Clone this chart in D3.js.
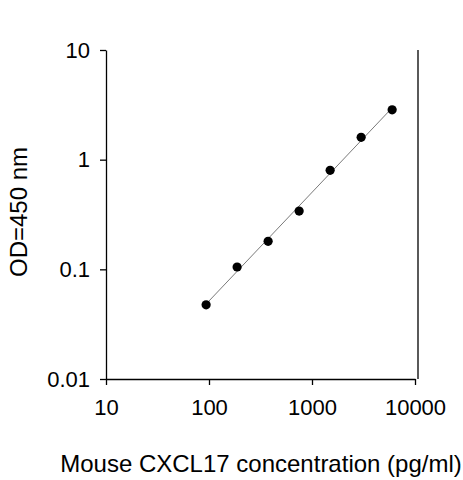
<!DOCTYPE html>
<html>
<head>
<meta charset="utf-8">
<script src="https://cdn.jsdelivr.net/npm/d3@7"></script>
<style>
  body { margin: 0; background: #fff; }
  text { font-family: "Liberation Sans", Arial, sans-serif; fill: #000; }
</style>
</head>
<body>
<svg id="chart" width="463" height="480"></svg>
<script>
// standard curve values
var concentration = [93.75, 187.5, 375, 750, 1500, 3000, 6000];
var od450 = [0.0475, 0.105, 0.18, 0.34, 0.80, 1.60, 2.85];
var xTicks = [10, 100, 1000, 10000];
var yTicks = [0.01, 0.1, 1, 10];

const svg = d3.select('#chart');

const plotLeft = 106, plotRight = 415, plotTop = 50, plotBottom = 379;

const xScale = d3.scaleLog()
  .domain([10, 10000])
  .range([plotLeft, plotRight]);

const yScale = d3.scaleLog()
  .domain([0.01, 10])
  .range([plotBottom, plotTop]);

// axes
const xAxis = svg.append('g')
  .attr('transform', `translate(0, ${plotBottom})`)
  .call(d3.axisBottom(xScale)
    .tickValues(xTicks)
    .tickFormat(d3.format('d'))
    .tickSizeInner(6)
    .tickSizeOuter(0)
    .tickPadding(14));

const yAxis = svg.append('g')
  .attr('transform', `translate(${plotLeft}, 0)`)
  .call(d3.axisLeft(yScale)
    .tickValues(yTicks)
    .tickFormat(d => d >= 1 ? d3.format('d')(d) : String(d))
    .tickSizeInner(6)
    .tickSizeOuter(0)
    .tickPadding(10));

[xAxis, yAxis].forEach(function(a){
  a.select('.domain').attr('stroke', '#000').attr('stroke-width', 1.3);
  a.selectAll('.tick line').attr('stroke', '#000').attr('stroke-width', 1.3);
  a.selectAll('.tick text')
    .attr('font-size', '22px')
    .attr('font-family', '"Liberation Sans", Arial, sans-serif')
    .attr('fill', '#000');
});

// right hand frame line
svg.append('line')
  .attr('x1', plotRight + 3).attr('x2', plotRight + 3)
  .attr('y1', yScale(10)).attr('y2', plotBottom)
  .attr('stroke', '#000')
  .attr('stroke-width', 1.3);

// linear fit in log-log space
var lx = concentration.map(d => Math.log10(d));
var ly = od450.map(d => Math.log10(d));
var mx = d3.mean(lx), my = d3.mean(ly);
var slope = d3.sum(lx.map((v, i) => (v - mx) * (ly[i] - my))) / d3.sum(lx.map(v => (v - mx) * (v - mx)));
var icept = my - slope * mx;
var fitX = d3.extent(concentration);

svg.append('path')
  .datum(fitX)
  .attr('fill', 'none')
  .attr('stroke', '#7a7a7a')
  .attr('stroke-width', 1)
  .attr('d', d3.line()
    .x(d => xScale(d))
    .y(d => yScale(Math.pow(10, icept + slope * Math.log10(d)))));

// points
svg.selectAll('.dot')
  .data(concentration)
  .enter()
  .append('circle')
  .attr('class', 'dot')
  .attr('cx', d => xScale(d))
  .attr('cy', (d, i) => yScale(od450[i]))
  .attr('r', 4.6)
  .attr('fill', '#000');

// axis titles
svg.append('text')
  .attr('x', -212)
  .attr('y', 27)
  .attr('transform', 'rotate(-90)')
  .attr('text-anchor', 'middle')
  .attr('font-size', '24px')
  .text('OD=450 nm');

svg.append('text')
  .attr('x', 261)
  .attr('y', 472)
  .attr('text-anchor', 'middle')
  .attr('font-size', '24px')
  .text('Mouse CXCL17 concentration (pg/ml)');
</script>
</body>
</html>
